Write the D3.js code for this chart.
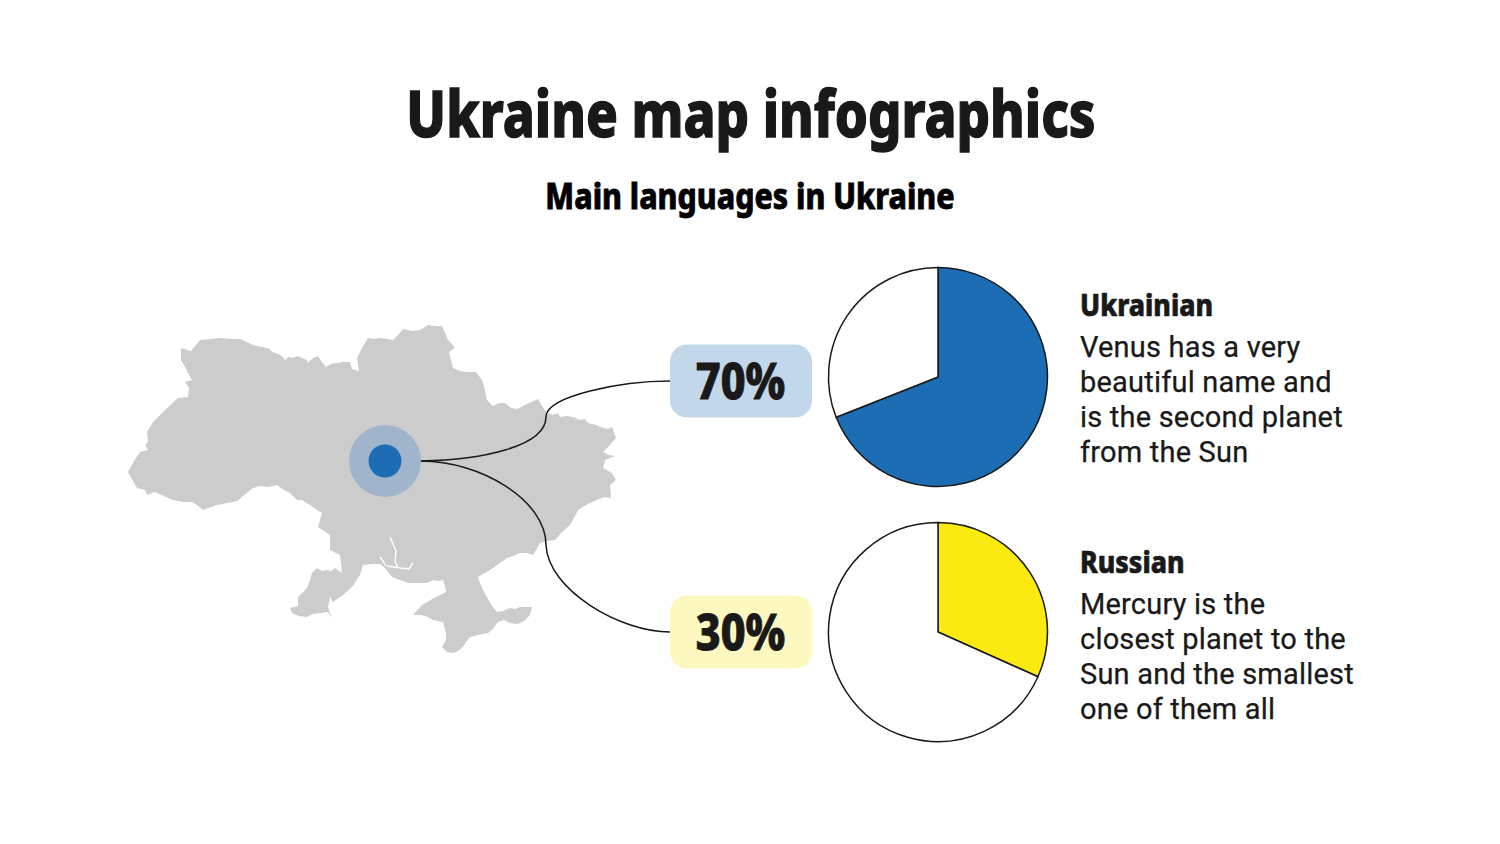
<!DOCTYPE html>
<html><head><meta charset="utf-8">
<script src="https://cdnjs.cloudflare.com/ajax/libs/d3/7.8.5/d3.min.js"></script>
<style>html,body{margin:0;background:#fff}svg{display:block}</style></head>
<body><svg id="c" width="1500" height="844"></svg>
<script>
const titleText = "Ukraine map infographics";
const subtitleText = "Main languages in Ukraine";
const languages = ["Ukrainian", "Russian"];
const percentLabels = ["70%", "30%"];
const shareDrawn = [69, 31.7];
const sliceColors = ["#1d6db5", "#faea12"];
const badgeColors = ["#c3d7ea", "#fdf8bf"];
const descriptions = [
  ["Venus has a very", "beautiful name and", "is the second planet", "from the Sun"],
  ["Mercury is the", "closest planet to the", "Sun and the smallest", "one of them all"]
];
// Traced country outline, in map units
const mapOutline = [[181,348],[191,351],[200,340],[210,339],[220,338],[231,339],[240,339],[247,342],[253,345],[262,347],[270,349],[272,352],[278,354],[283,357],[285,360],[288,357],[292,358],[298,356],[302,358],[307,360],[308,363],[313,358],[318,356],[322,362],[326,367],[331,364],[337,363],[343,362],[350,362],[352,369],[359,371],[357,358],[362,348],[368,338],[375,339],[380,338],[387,339],[393,340],[398,335],[403,329],[412,331],[420,330],[428,325],[436,326],[442,326],[445,333],[448,340],[452,344],[455,348],[449,352],[451,360],[453,368],[460,371],[467,372],[476,372],[482,380],[485,390],[487,400],[493,406],[499,403],[505,403],[511,408],[517,409],[527,404],[538,399],[542,406],[547,413],[553,415],[558,413],[560,417],[567,416],[573,417],[580,420],[585,419],[588,423],[596,425],[603,428],[608,429],[612,427],[616,438],[610,445],[603,452],[609,455],[615,456],[605,460],[603,468],[612,473],[616,480],[610,485],[611,498],[604,497],[597,500],[590,503],[583,507],[578,510],[574,518],[570,525],[562,532],[555,540],[547,541],[540,543],[533,555],[526,553],[520,553],[513,556],[507,558],[500,563],[493,568],[485,573],[478,577],[480,583],[483,590],[487,597],[492,606],[497,612],[503,611],[510,608],[515,609],[520,607],[532,607],[530,615],[524,621],[518,624],[510,623],[504,620],[498,622],[492,630],[488,633],[478,635],[470,637],[466,642],[463,647],[458,651],[453,653],[447,652],[442,647],[446,640],[446,633],[443,622],[433,620],[426,616],[420,615],[413,615],[422,605],[434,598],[446,592],[445,586],[443,580],[438,581],[433,580],[427,583],[420,583],[408,583],[400,580],[392,577],[385,568],[380,564],[372,564],[363,565],[360,575],[352,587],[343,595],[333,602],[330,597],[328,607],[332,618],[328,612],[320,613],[313,614],[307,617],[299,616],[292,613],[290,608],[298,606],[298,597],[307,588],[310,580],[312,573],[317,568],[322,571],[327,570],[331,571],[335,568],[342,573],[340,555],[330,550],[330,535],[318,527],[322,513],[317,510],[310,505],[302,500],[297,500],[290,493],[284,490],[277,485],[268,487],[260,486],[253,488],[248,492],[237,501],[227,503],[217,505],[203,510],[197,505],[192,502],[183,502],[173,500],[164,496],[155,492],[147,495],[145,490],[137,488],[133,481],[128,472],[134,461],[140,452],[148,450],[145,445],[148,442],[147,432],[153,422],[165,410],[178,398],[188,397],[189,388],[185,382],[192,380],[188,373],[185,367],[181,360]];
const estuaryLines = [
  [[390,537],[393,544],[396,551],[395,562],[398,567]],
  [[387,566],[400,568],[409,569],[413,563]],
  [[380,557],[383,561],[386,566]],
  [[487,573],[491,578],[484,581]]
];

const svg = d3.select("#c");
const mx = d3.scaleLinear().domain([128,616]).range([128,616]);
const my = d3.scaleLinear().domain([325,653]).range([325,653]);
const mapLine = d3.line().x(d=>mx(d[0])).y(d=>my(d[1]));

const heading = "'Noto Sans'";
function condensed(x,y,txt,size,sx,anchor,fill,sw){
  return svg.append("text").attr("transform",`translate(${x},${y}) scale(${sx},1)`)
    .attr("text-anchor",anchor).attr("font-family",heading).attr("font-weight",800)
    .attr("font-size",size).attr("fill",fill).attr("stroke",fill).attr("stroke-width",sw).text(txt);
}
condensed(751,137,titleText,65,0.81,"middle","#191919",1.4);
condensed(750,209,subtitleText,36,0.84,"middle","#000",0.8);

svg.append("path").attr("d",mapLine(mapOutline)+"Z").attr("fill","#cccccc");
estuaryLines.forEach(l=>svg.append("path").attr("d",mapLine(l)).attr("fill","none").attr("stroke","#fff").attr("stroke-width",1.4));

const hub = {x:385,y:461};
svg.append("circle").attr("cx",hub.x).attr("cy",hub.y).attr("r",36).attr("fill","#a0b5cc");
svg.append("circle").attr("cx",hub.x).attr("cy",hub.y).attr("r",16.5).attr("fill","#1d6db5");

const rows = [
  {pie:377, badge:381, head:316, body:[357,392,427,462]},
  {pie:632, badge:632, head:573, body:[614,649,684,719]}
];
const connectors = [
 `M421,461 C480,460 547,447 546,416 C548,396 620,381 670,381`,
 `M421,461 C480,461 546,500 546,545 C548,590 620,632 670,632`
];
connectors.forEach(d=>svg.append("path").attr("d",d).attr("fill","none").attr("stroke","#191919").attr("stroke-width",1.5));

const pie = d3.pie().sort(null);
const arc = d3.arc().innerRadius(0).outerRadius(109.5);
languages.forEach((lang,i)=>{
  const r = rows[i];
  svg.append("rect").attr("x",670).attr("y",r.badge-36.5).attr("width",142).attr("height",73).attr("rx",17).attr("fill",badgeColors[i]);
  condensed(740.5,r.badge+18,percentLabels[i],50,0.86,"middle","#191919",1);
  const g = svg.append("g").attr("transform",`translate(938,${r.pie})`);
  g.selectAll("path").data(pie([shareDrawn[i],100-shareDrawn[i]])).join("path")
    .attr("d",arc).attr("fill",(d,j)=>j===0?sliceColors[i]:"#fff")
    .attr("stroke","#191919").attr("stroke-width",1.5);
  condensed(1080,r.head,lang,31,0.86,"start","#191919",0.7);
  descriptions[i].forEach((t,k)=>svg.append("text").attr("x",1080).attr("y",r.body[k])
    .attr("font-family","Roboto").attr("font-size",29).attr("letter-spacing",0.2).attr("stroke","#191919").attr("stroke-width",0.25).attr("fill","#191919").text(t));
});
</script></body></html>
